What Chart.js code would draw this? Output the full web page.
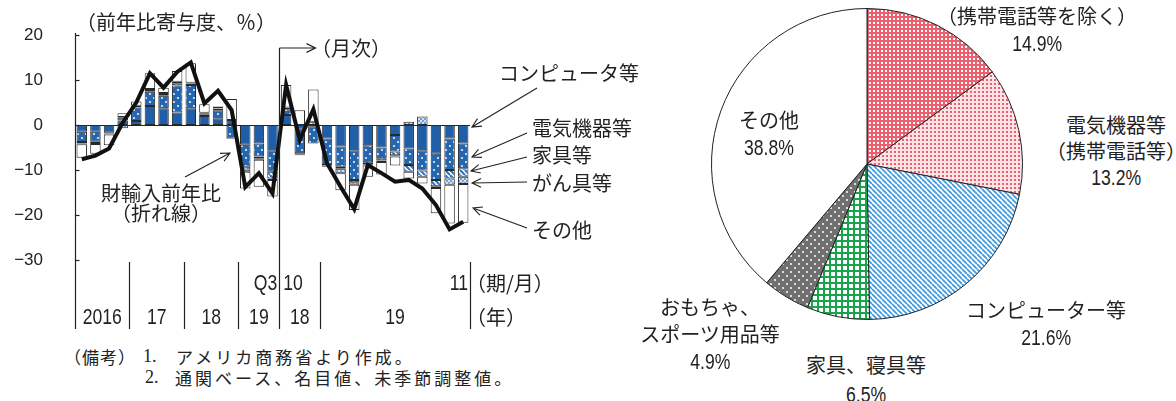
<!DOCTYPE html>
<html lang="ja">
<head>
<meta charset="utf-8">
<title>米国の輸入動向</title>
<script src="https://cdn.jsdelivr.net/npm/chart.js@4.4.1/dist/chart.umd.min.js"></script>
<style>
  body { margin: 0; background: #fff; }
  #wrap { position: relative; width: 1176px; height: 401px; overflow: hidden;
          font-family: "Noto Sans CJK JP", sans-serif; color: #222; }
  canvas { position: absolute; }
  .t { position: absolute; white-space: nowrap; font-size: 20px; line-height: 26px; }
  .c { text-align: center; transform: translateX(-50%); }
  .p { line-height: 27px; }
  .num { display: inline-block; font-family: "Liberation Sans", sans-serif; font-size: 22px; transform: scaleX(0.8); }
  .note { position: absolute; white-space: nowrap; font-size: 17px; letter-spacing: 3px; line-height: 21px; }
  .nn { position: absolute; font-family: "Liberation Serif", serif; font-size: 18px; line-height: 21px; }
</style>
</head>
<body>
<div id="wrap">
  <canvas id="barChart" width="600" height="340" style="left:0;top:0"></canvas>
  <canvas id="pieChart" width="340" height="340" style="left:697px;top:-6px"></canvas>

  <!-- left chart texts -->
  <div class="t c" style="left:176px;top:9px">（前年比寄与度、％）</div>
  <div class="t c" style="left:351px;top:35px">（月次）</div>
  <div class="t" style="left:499px;top:60px">コンピュータ等</div>
  <div class="t" style="left:532px;top:115px">電気機器等</div>
  <div class="t" style="left:532px;top:142px">家具等</div>
  <div class="t" style="left:532px;top:170px">がん具等</div>
  <div class="t" style="left:532px;top:217px">その他</div>
  <div class="t c" style="left:161px;top:183px;line-height:20px">財輸入前年比<br>（折れ線）</div>
  <div class="t" style="left:466px;top:270px">（期/月）</div>
  <div class="t" style="left:466px;top:304px">（年）</div>

  <div class="note" style="left:64px;top:346px;letter-spacing:1px">（備考）</div>
  <div class="nn" style="left:143px;top:346px">1.</div>
  <div class="note" style="left:176px;top:346px">アメリカ商務省より作成。</div>
  <div class="nn" style="left:145px;top:367px">2.</div>
  <div class="note" style="left:175px;top:367px">通関ベース、名目値、未季節調整値。</div>

  <!-- pie texts -->
  <div class="t c p" style="left:1037px;top:2px">（携帯電話等を除く）<br><span class="num">14.9%</span></div>
  <div class="t c" style="left:1116px;top:112px">電気機器等<br>（携帯電話等）<br><span class="num">13.2%</span></div>
  <div class="t c p" style="left:1046px;top:296px">コンピューター等<br><span class="num">21.6%</span></div>
  <div class="t c" style="left:866px;top:350px;line-height:29px">家具、寝具等<br><span class="num">6.5%</span></div>
  <div class="t c p" style="left:710px;top:293px">おもちゃ、<br>スポーツ用品等<br><span class="num">4.9%</span></div>
  <div class="t c p" style="left:769px;top:106px">その他<br><span class="num">38.8%</span></div>
</div>

<script>
// ---- bar chart data (contribution to y/y import growth, %pt) ----
const categories = ['2016Q1', '2016Q2', '2016Q3', '2016Q4', '2017Q1', '2017Q2', '2017Q3', '2017Q4',
  '2018Q1', '2018Q2', '2018Q3', '2018Q4', '2019Q1', '2019Q2', '2019Q3',
  '2018/10', '2018/11', '2018/12', '2019/01', '2019/02', '2019/03', '2019/04', '2019/05',
  '2019/06', '2019/07', '2019/08', '2019/09', '2019/10', '2019/11'];
const periodLabels = ['', '', '', '', '', '', '', '', '', '', '', '', '', '', 'Q3',
  '10', '', '', '', '', '', '', '', '', '', '', '', '', '11'];
const yearLabels = ['2016', '17', '18', '19', '18', '19'];
const yearSpans = [4, 4, 4, 3, 3, 11];
const yTicks = [20, 10, 0, -10, -20, -30];

const computer = [-1.5, -1.5, -1.7, 1.0, 0.9, 4.2, 3.7, 2.8, 3.7, 2.0, 1.5, 1.1, -4.4, -4.1, -5.6,
  2.2, -0.7, -0.3, -3.0, -4.8, -5.6, -4.5, -5.0, -2.2, -5.2, -5.6, -6.4, -3.0, -4.1];
const electric = [-2.3, -2.2, -0.2, 0.6, 3.0, 3.2, 2.8, 6.0, 5.2, 0.4, 1.8, -3.0, -4.9, -2.9, -4.8,
  1.3, -5.6, -3.8, -5.9, -4.5, -6.6, -3.8, -2.4, -3.7, -3.7, -4.5, -5.8, -7.0, -5.5];
const furniture = [-0.3, -0.3, -0.1, 0.2, 0.3, 0.4, 0.4, 0.5, 0.3, 0.2, 0.3, -0.1, -0.6, -0.4, -1.5,
  0.3, -0.2, 0, -0.1, -0.4, -0.5, -0.4, -0.5, -0.8, -1.5, -1.4, -1.4, -1.9, -1.9];
const toys = [-0.2, -0.2, -0.1, -0.7, 0.1, 0.2, 0.2, 0.3, 0.2, 0.1, 0.1, 0, -0.5, -0.3, -0.3,
  0.1, -0.2, 0.7, -0.1, -1.0, -0.6, -0.3, -0.3, -0.3, 0.7, 1.9, -0.4, -1.4, -1.6];
const others = [-3.0, -2.2, -2.4, 0.8, 0.9, 3.5, 1.2, 2.4, 4.3, 1.9, 0.4, 4.7, -3.7, -6.0, -3.7,
  5.0, 3.3, 7.2, -0.2, -3.8, -5.6, -2.5, -2.8, -2.0, -1.5, -1.5, -5.6, -8.6, -8.6];
const importYoY = [-7.6, -6.8, -5.2, 0.5, 5.0, 11.5, 8.3, 11.8, 13.9, 4.8, 7.6, 3.3, -13.8, -10.7, -15.2,
  8.9, -3.3, 3.5, -8.5, -13.7, -18.7, -8.9, -10.7, -12.6, -12.2, -14.1, -17.8, -23.2, -21.5];

// ---- pie data (share of imports from China, %) ----
const pieLabels = ['電気機器等（携帯電話等を除く）', '電気機器等（携帯電話等）', 'コンピューター等',
  '家具、寝具等', 'おもちゃ、スポーツ用品等', 'その他'];
const pieShares = [14.9, 13.2, 21.6, 6.5, 4.9, 38.8];

// small repeating tiles for hatched fills
function makePattern(ctx, size, draw) {
  const tile = document.createElement('canvas');
  tile.width = tile.height = size;
  draw(tile.getContext('2d'), size);
  return ctx.createPattern(tile, 'repeat');
}
function dots(bg, fg, r, pts) {
  return (g, s) => {
    g.fillStyle = bg; g.fillRect(0, 0, s, s);
    g.fillStyle = fg;
    pts.forEach(([px, py]) => { g.beginPath(); g.arc(px, py, r, 0, Math.PI * 2); g.fill(); });
  };
}
function diag(bg, fg, w) {
  return (g, s) => {
    g.fillStyle = bg; g.fillRect(0, 0, s, s);
    g.strokeStyle = fg; g.lineWidth = w;
    for (let k = -1; k <= 1; k++) { g.beginPath(); g.moveTo(k * s, 0); g.lineTo(k * s + s, s); g.stroke(); }
  };
}

function arrow(ctx, x1, y1, x2, y2) {
  const a = Math.atan2(y2 - y1, x2 - x1), h = 10;
  ctx.beginPath();
  ctx.moveTo(x1, y1); ctx.lineTo(x2, y2);
  ctx.moveTo(x2 - h * Math.cos(a - 0.45), y2 - h * Math.sin(a - 0.45));
  ctx.lineTo(x2, y2);
  ctx.lineTo(x2 - h * Math.cos(a + 0.45), y2 - h * Math.sin(a + 0.45));
  ctx.stroke();
}

// condensed numerals (no narrow face installed, so squeeze a regular one)
function narrowText(ctx, text, x, y, align) {
  ctx.save();
  ctx.translate(x, y);
  ctx.scale(0.8, 1);
  ctx.textAlign = align;
  ctx.fillText(text, 0, 0);
  ctx.restore();
}

const barCtx = document.getElementById('barChart').getContext('2d');
const elecFill = makePattern(barCtx, 8, dots('#2466b0', '#e8f1fb', 1.1, [[2, 2], [6, 6]]));
const furnFill = makePattern(barCtx, 5, diag('#ffffff', '#2f74c0', 2.2));
const toysFill = makePattern(barCtx, 4, dots('#6fa3d8', '#ffffff', 0.9, [[1, 1], [3, 3]]));

const axisDecor = {
  id: 'axisDecor',
  beforeDatasetsDraw(chart) {
    const { ctx, chartArea: a, scales: { y } } = chart;
    ctx.save();
    ctx.strokeStyle = '#222'; ctx.lineWidth = 1;
    const y0 = Math.round(y.getPixelForValue(0)) + 0.5;
    ctx.beginPath(); ctx.moveTo(a.left, y0); ctx.lineTo(a.right, y0); ctx.stroke();
    ctx.restore();
  },
  afterDraw(chart) {
    const { ctx, chartArea: a, scales: { x, y } } = chart;
    const step = x.getPixelForValue(1) - x.getPixelForValue(0);
    const edge = i => x.getPixelForValue(i) - step / 2;   // left edge of category i
    const sepTop = a.bottom + 2, sepBottom = a.bottom + 69;
    ctx.save();
    ctx.strokeStyle = '#222'; ctx.fillStyle = '#222'; ctx.lineWidth = 1.2;

    // y axis line + inward ticks
    const ax = Math.round(a.left) + 0.5;
    ctx.beginPath(); ctx.moveTo(ax, a.top - 2); ctx.lineTo(ax, sepBottom); ctx.stroke();
    yTicks.forEach(v => {
      const py = Math.round(y.getPixelForValue(v)) + 0.5;
      ctx.beginPath(); ctx.moveTo(ax, py); ctx.lineTo(ax + 4, py); ctx.stroke();
    });

    // year groups: separators and labels
    let start = 0;
    const bounds = [0];
    yearSpans.forEach(s => { start += s; bounds.push(start); });
    ctx.font = '22px "Liberation Sans", sans-serif';
    ctx.textBaseline = 'middle';
    bounds.forEach((b, k) => {
      if (k === 0) return;
      const bx = Math.round(edge(b)) + 0.5;
      const top = b === 15 ? a.top + 13 : sepTop;
      ctx.beginPath(); ctx.moveTo(bx, top); ctx.lineTo(bx, sepBottom); ctx.stroke();
      narrowText(ctx, yearLabels[k - 1], (edge(bounds[k - 1]) + edge(b)) / 2, a.bottom + 58, 'center');
    });
    // monthly-section marker arrow
    const dx = Math.round(edge(15)) + 0.5;
    arrow(ctx, dx, a.top + 13, dx + 36, a.top + 13);

    // period labels
    periodLabels.forEach((lab, i) => {
      if (!lab) return;
      const py = a.bottom + 24;
      if (bounds.includes(i + 1)) narrowText(ctx, lab, edge(i + 1) - 2, py, 'right');
      else if (bounds.includes(i)) narrowText(ctx, lab, edge(i) + 4, py, 'left');
      else narrowText(ctx, lab, x.getPixelForValue(i), py, 'center');
    });

    // annotation arrows
    ctx.lineWidth = 1.1;
    arrow(ctx, 537, 88, 472, 127);
    arrow(ctx, 527, 133, 472, 157);
    arrow(ctx, 527, 157, 471, 171);
    arrow(ctx, 527, 182, 472, 183);
    arrow(ctx, 527, 228, 473, 208);
    arrow(ctx, 185, 177, 230, 153);
    ctx.restore();
  }
};

new Chart(barCtx, {
  type: 'bar',
  data: {
    labels: categories,
    datasets: [
      { label: 'コンピュータ等', data: computer, backgroundColor: '#1f5ea8' },
      { label: '電気機器等', data: electric, backgroundColor: elecFill },
      { label: '家具等', data: furniture, backgroundColor: furnFill },
      { label: 'がん具等', data: toys, backgroundColor: toysFill },
      { label: 'その他', data: others, backgroundColor: '#ffffff' },
      {
        type: 'line', label: '財輸入前年比', data: importYoY, stack: 'yoy', order: -1,
        borderColor: '#111', borderWidth: 4, pointRadius: 0, tension: 0, fill: false
      }
    ]
  },
  options: {
    responsive: false,
    animation: false,
    layout: { padding: { top: 35, right: 130, bottom: 80, left: 0 } },
    plugins: { legend: { display: false }, tooltip: { enabled: false } },
    datasets: {
      bar: { barPercentage: 0.77, categoryPercentage: 1, borderWidth: 1, borderColor: '#2a2a2a', borderSkipped: false }
    },
    scales: {
      x: { display: false, stacked: true },
      y: {
        stacked: true, min: -30, max: 20,
        afterFit(s) { s.width = 75; },
        afterBuildTicks(s) { s.ticks = yTicks.map(v => ({ value: v })); },
        grid: { display: false },
        border: { display: false },
        ticks: {
          padding: 24, color: '#222',
          font: { family: 'Liberation Sans', size: 17 },
          callback: v => (v < 0 ? '\u2212' + Math.abs(v) : String(v))
        }
      }
    }
  },
  plugins: [axisDecor]
});

const pieCtx = document.getElementById('pieChart').getContext('2d');
const pieFills = [
  makePattern(pieCtx, 4, g => { g.fillStyle = '#ec5f6e'; g.fillRect(0, 0, 4, 4); g.fillStyle = '#fff'; g.fillRect(0, 0, 2, 2); }),
  makePattern(pieCtx, 4, g => { g.fillStyle = '#fde4e7'; g.fillRect(0, 0, 4, 4); g.fillStyle = '#ec5f6e'; g.fillRect(1, 1, 2, 2); }),
  makePattern(pieCtx, 5, diag('#ffffff', '#3d9ae0', 1.7)),
  makePattern(pieCtx, 6, g => {
    g.fillStyle = '#fff'; g.fillRect(0, 0, 6, 6);
    g.fillStyle = '#17a44a'; g.fillRect(0, 0, 6, 2); g.fillRect(0, 0, 2, 6);
  }),
  makePattern(pieCtx, 8, dots('#707070', '#ffffff', 1, [[2, 2], [6, 6]])),
  '#ffffff'
];

new Chart(pieCtx, {
  type: 'pie',
  data: {
    labels: pieLabels,
    datasets: [{ data: pieShares, backgroundColor: pieFills, borderColor: '#222', borderWidth: 1 }]
  },
  options: {
    responsive: false,
    animation: false,
    layout: { padding: 14 },
    plugins: { legend: { display: false }, tooltip: { enabled: false } }
  }
});
</script>
</body>
</html>
